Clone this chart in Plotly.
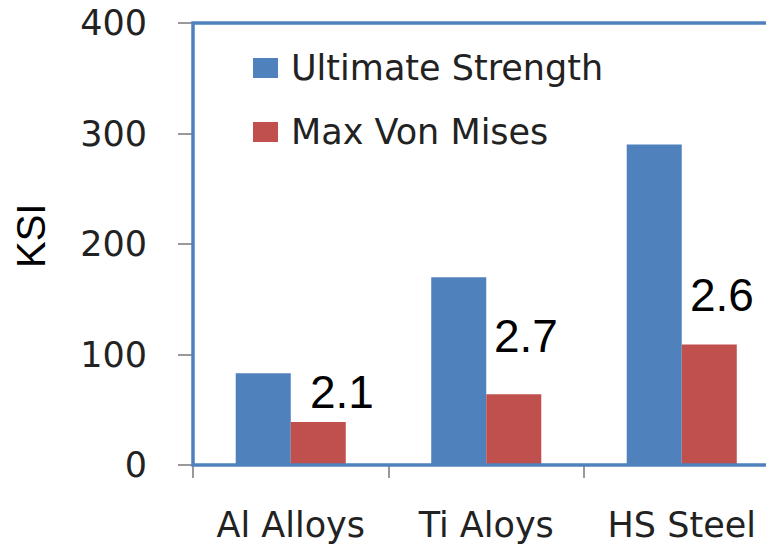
import plotly.graph_objects as go

# values (KSI)
materials = ["Al Alloys", "Ti Aloys", "HS Steel"]
ultimate_strength = [83, 170, 290]
max_von_mises = [39, 64, 109]
safety_factors = ["2.1", "2.7", "2.6"]
factor_label_y = [66, 117, 154]
y_ticks = [0, 100, 200, 300, 400]

BLUE = "#4F81BD"
RED = "#C0504D"
TICK_FONT = dict(family="DejaVu Sans", size=35, color="#222222")

# the page body has an 8px margin, so work in page pixels and shift back
OFF = 8
W, H = 774 - OFF, 545 - OFF
L, T, B = 193 - OFF, 23 - OFF, 80
plot_w, plot_h = W - L, H - T - B


def px_x(x):
    return (x - OFF - L) / plot_w


def px_y(y):
    return (H - B - (y - OFF)) / plot_h


fig = go.Figure()
fig.add_trace(go.Bar(x=materials, y=ultimate_strength, name="Ultimate Strength",
                     marker=dict(color=BLUE, line=dict(width=0))))
fig.add_trace(go.Bar(x=materials, y=max_von_mises, name="Max Von Mises",
                     marker=dict(color=RED, line=dict(width=0))))

# safety factor labels next to the red bars
for mat, txt, yv, dx in zip(materials, safety_factors, factor_label_y, [51, 40, 40]):
    fig.add_annotation(x=mat, y=yv, text=txt, showarrow=False, xshift=dx,
                       font=dict(family="Liberation Sans", size=46, color="black"))

# hand-drawn legend, like the original one inside the plot area
for i, (name, color) in enumerate([("Ultimate Strength", BLUE), ("Max Von Mises", RED)]):
    top = 58 + i * 64
    fig.add_shape(type="rect", xref="paper", yref="paper",
                  x0=px_x(253), x1=px_x(278), y0=px_y(top + 20), y1=px_y(top),
                  fillcolor=color, line=dict(width=0))
    fig.add_annotation(xref="paper", yref="paper", x=px_x(289), y=px_y(top + 10),
                       xanchor="left", yanchor="middle", text=name, showarrow=False,
                       font=dict(family="DejaVu Sans", size=35, color="#222222"))

# blue plot-area frame
fig.add_shape(type="rect", xref="paper", yref="paper", x0=0, x1=1.01, y0=0, y1=1,
              line=dict(color=BLUE, width=3.5), layer="above")

fig.add_annotation(xref="paper", yref="paper", x=px_x(31), y=px_y(236), text="KSI",
                   textangle=-90, showarrow=False, xanchor="center", yanchor="middle",
                   borderpad=0,
                   font=dict(family="Liberation Sans", size=40, color="black"))

fig.update_layout(
    width=W, height=H,
    margin=dict(l=L, r=0, t=T, b=B),
    paper_bgcolor="white", plot_bgcolor="white",
    barmode="group", bargap=0.437, bargroupgap=0,
    showlegend=False,
    xaxis=dict(range=[-0.5, -0.5 + plot_w / 195.5], tickson="boundaries",
               ticks="outside", ticklen=12, tickcolor="#999999", tickwidth=1.5,
               showline=False, showgrid=False, tickfont=TICK_FONT,
               ticklabelstandoff=36, automargin=False),
    yaxis=dict(range=[0, 400], tickvals=y_ticks, ticks="outside", ticklen=14,
               tickcolor="#999999", tickwidth=1.5, showline=False, showgrid=False,
               zeroline=False, tickfont=TICK_FONT, ticklabelstandoff=24,
               ticklabeloverflow="allow", automargin=False),
)

fig.write_html("out.html")
